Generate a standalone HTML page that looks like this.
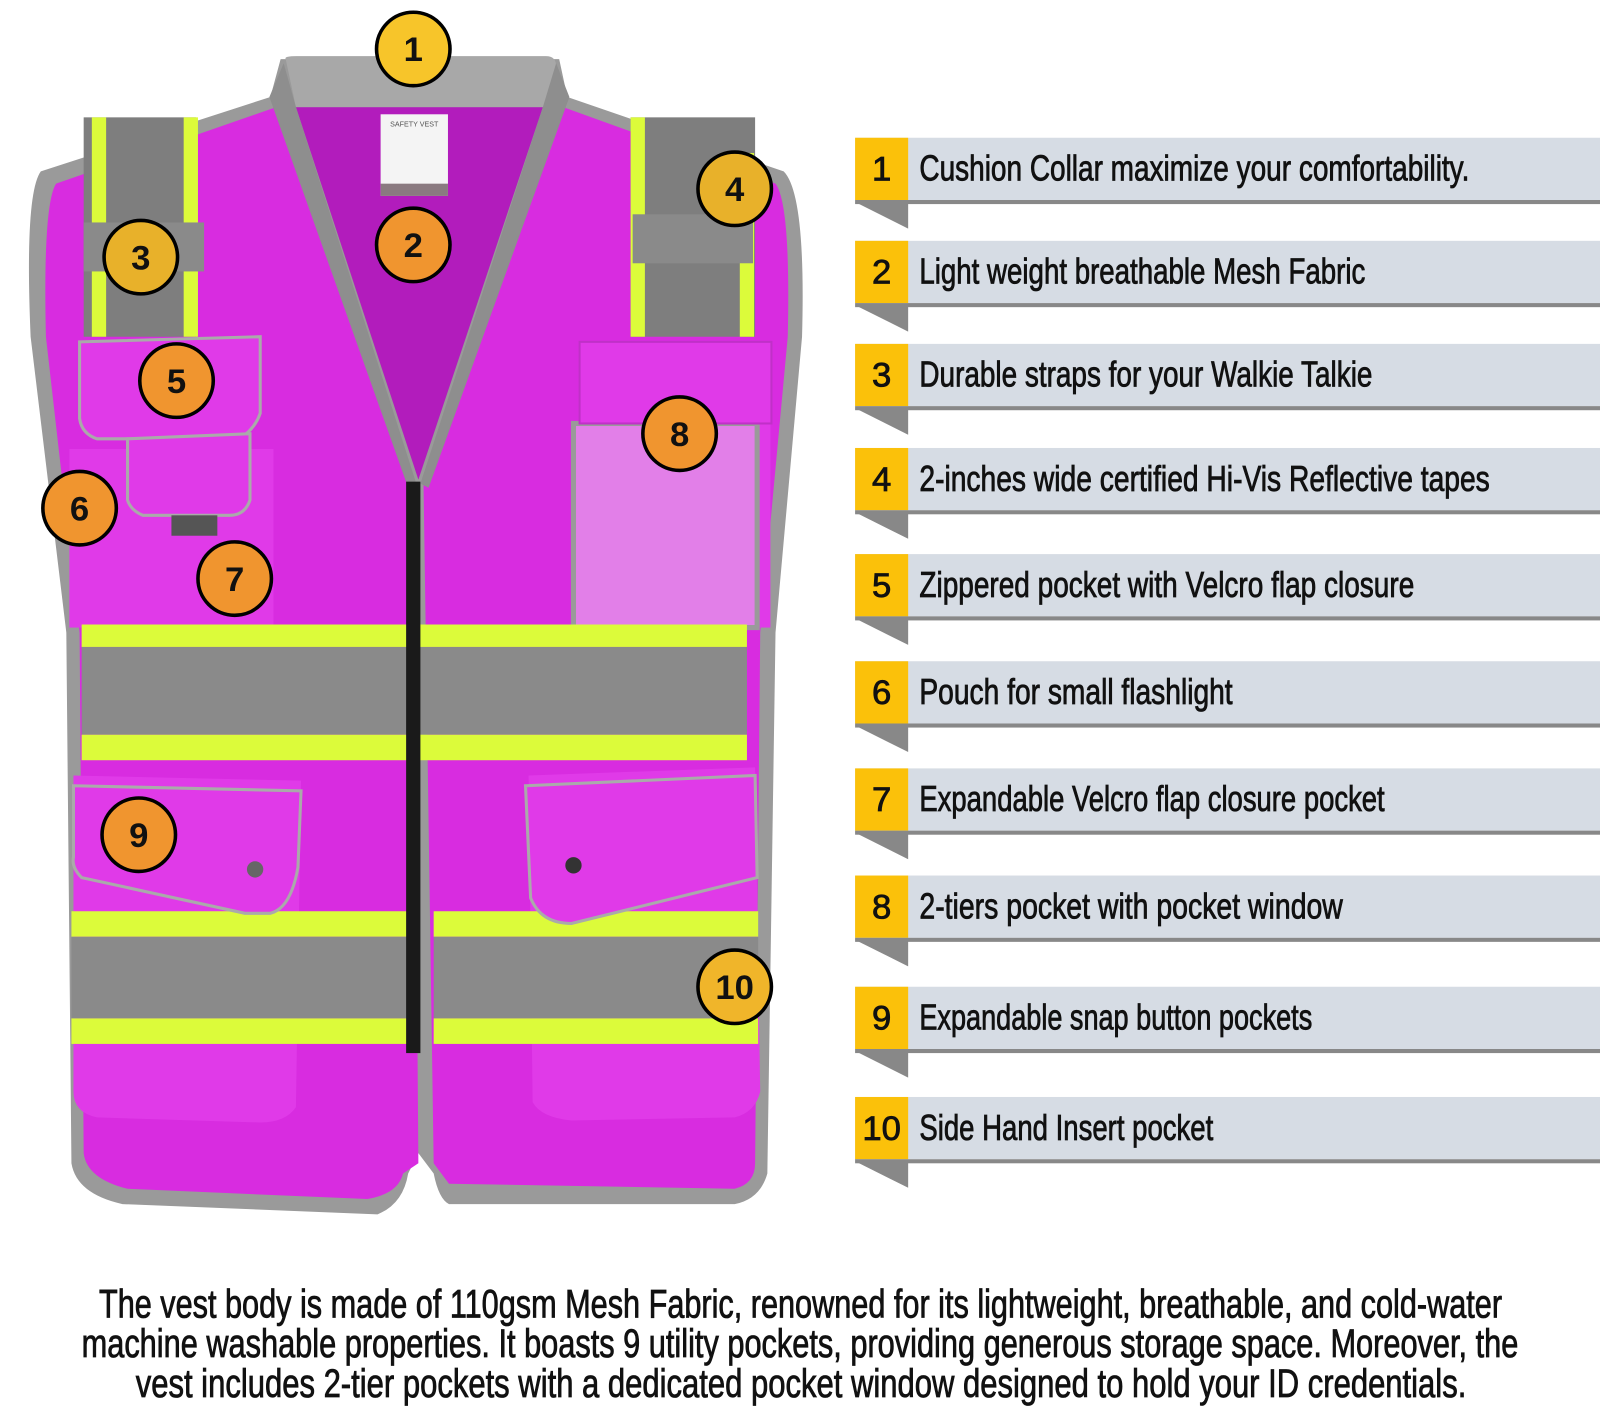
<!DOCTYPE html>
<html><head><meta charset="utf-8"><style>
html,body{margin:0;padding:0;background:#fff;width:1600px;height:1423px;overflow:hidden}
svg{display:block}
text{font-family:"Liberation Sans Narrow","Liberation Sans",sans-serif;fill:#111}
</style></head><body>
<svg width="1600" height="1423" viewBox="0 0 1568 1394.5" preserveAspectRatio="none" xmlns="http://www.w3.org/2000/svg">
<path d="M275,58 L548,58 L556,95 L768,168 Q790,190 786,330 L760,620 L752,1150 Q745,1175 720,1180 L440,1180 Q430,1175 425,1150 L410,1130 L400,1150 Q395,1180 370,1190 L120,1180 Q75,1170 70,1140 L65,620 L30,330 Q24,190 40,168 L265,95 Z" fill="#9a9a9a"/>
<path d="M285,100 L405,470 L410,1140 L395,1150 Q390,1170 360,1175 L125,1165 Q85,1155 82,1130 L78,620 L45,330 Q42,200 55,180 Z" fill="#d82ce0"/>
<path d="M538,100 L415,470 L425,1140 L440,1160 L720,1165 Q740,1160 740,1140 L745,620 L772,330 Q775,200 760,180 Z" fill="#d82ce0"/>
<path d="M290,105 L532,105 L410,470 Z" fill="#b21cbc"/>
<path d="M280,58 Q278,55 290,55 L535,55 Q545,55 545,65 L540,105 L290,105 Z" fill="#a8a8a8"/>
<path d="M278,62 L264,95 L400,478 L408,474 L290,105 Z" fill="#8e8e8e"/>
<path d="M545,62 L558,95 L420,478 L412,474 L532,105 Z" fill="#8e8e8e"/>
<rect x="373" y="112" width="66" height="80" fill="#f4f4f4"/>
<text x="406" y="124" font-size="7" text-anchor="middle" style="font-family:'Liberation Sans',sans-serif;fill:#555">SAFETY VEST</text>
<rect x="373" y="180" width="66" height="12" fill="#8a7a80"/>
<rect x="82" y="115" width="110" height="215" fill="#7e7e7e"/>
<rect x="90" y="115" width="14" height="215" fill="#dcfb3a"/>
<rect x="180" y="115" width="14" height="215" fill="#dcfb3a"/>
<rect x="618" y="115" width="122" height="215" fill="#7e7e7e"/>
<rect x="618" y="115" width="14" height="215" fill="#dcfb3a"/>
<rect x="725" y="150" width="14" height="180" fill="#dcfb3a"/>
<rect x="82" y="218" width="118" height="48" fill="#8a8a8a"/>
<rect x="620" y="210" width="118" height="48" fill="#8a8a8a"/>
<rect x="68" y="440" width="200" height="175" fill="#e03ae8"/>
<path d="M78,335 L255,330 L255,405 Q250,420 235,430 L95,430 Q80,425 78,410 Z" fill="#e03ae8" stroke="#aaa" stroke-width="3"/>
<path d="M125,430 L245,425 L245,490 Q240,505 225,505 L140,505 Q128,500 125,490 Z" fill="#e03ae8" stroke="#aaa" stroke-width="3"/>
<rect x="168" y="505" width="45" height="20" fill="#555"/>
<rect x="570" y="335" width="185" height="280" fill="#e03ae8"/>
<rect x="562" y="415" width="180" height="200" fill="#e27fe8" stroke="#9a9a9a" stroke-width="5"/>
<rect x="568" y="335" width="188" height="80" fill="#e03ae8" stroke="#c030c8" stroke-width="2"/>
<rect x="80" y="612" width="652" height="22" fill="#dcfb3a"/>
<rect x="80" y="634" width="652" height="86" fill="#8a8a8a"/>
<rect x="80" y="720" width="652" height="25" fill="#dcfb3a"/>
<path d="M72,760 L295,765 L290,1085 Q280,1100 255,1100 L95,1095 Q72,1090 72,1070 Z" fill="#e03ae8"/>
<path d="M518,760 L740,752 L745,1070 Q740,1090 720,1095 L560,1098 Q530,1095 522,1080 Z" fill="#e03ae8"/>
<rect x="70" y="893" width="335" height="25" fill="#dcfb3a"/>
<rect x="70" y="918" width="335" height="80" fill="#8a8a8a"/>
<rect x="70" y="998" width="335" height="25" fill="#dcfb3a"/>
<rect x="425" y="893" width="318" height="25" fill="#dcfb3a"/>
<rect x="425" y="918" width="318" height="80" fill="#8a8a8a"/>
<rect x="425" y="998" width="318" height="25" fill="#dcfb3a"/>
<path d="M72,770 L295,775 L292,850 Q285,890 265,895 L240,895 L80,860 Q70,850 72,840 Z" fill="#e03ae8" stroke="#aaa" stroke-width="3"/>
<path d="M515,770 L740,760 L742,860 L560,905 Q530,905 520,880 Z" fill="#e03ae8" stroke="#aaa" stroke-width="3"/>
<circle cx="250" cy="852" r="8" fill="#666"/>
<circle cx="562" cy="848" r="8" fill="#333"/>
<rect x="398" y="472" width="14" height="560" fill="#1a1a1a"/>
<g stroke="#000" stroke-width="3.5">
<circle cx="405" cy="48" r="36" fill="#f7c52a"/>
<circle cx="405" cy="240" r="36" fill="#f0952f"/>
<circle cx="138" cy="252" r="36" fill="#e8b12a"/>
<circle cx="720" cy="185" r="36" fill="#e8b12a"/>
<circle cx="173" cy="373" r="36" fill="#f0952f"/>
<circle cx="78" cy="498" r="36" fill="#f0952f"/>
<circle cx="230" cy="567" r="36" fill="#f0952f"/>
<circle cx="666" cy="425" r="36" fill="#f0952f"/>
<circle cx="136" cy="818" r="36" fill="#f0952f"/>
<circle cx="720" cy="967" r="36" fill="#f0b52a"/>
</g>
<g font-size="34" font-weight="bold" text-anchor="middle">
<text x="405" y="60">1</text><text x="405" y="252">2</text><text x="138" y="264">3</text><text x="720" y="197">4</text><text x="173" y="385">5</text><text x="78" y="510">6</text><text x="230" y="579">7</text><text x="666" y="437">8</text><text x="136" y="830">9</text><text x="720" y="979">10</text>
</g>
<g>
<g transform="translate(0,135)"><rect x="838" y="0" width="730" height="61" fill="#d6dce4"/><rect x="838" y="0" width="52" height="61" fill="#fbc10a"/><rect x="838" y="61" width="730" height="4" fill="#888"/><polygon points="838,63 890,63 890,89" fill="#888"/></g>
<g transform="translate(0,236)"><rect x="838" y="0" width="730" height="61" fill="#d6dce4"/><rect x="838" y="0" width="52" height="61" fill="#fbc10a"/><rect x="838" y="61" width="730" height="4" fill="#888"/><polygon points="838,63 890,63 890,89" fill="#888"/></g>
<g transform="translate(0,337)"><rect x="838" y="0" width="730" height="61" fill="#d6dce4"/><rect x="838" y="0" width="52" height="61" fill="#fbc10a"/><rect x="838" y="61" width="730" height="4" fill="#888"/><polygon points="838,63 890,63 890,89" fill="#888"/></g>
<g transform="translate(0,439)"><rect x="838" y="0" width="730" height="61" fill="#d6dce4"/><rect x="838" y="0" width="52" height="61" fill="#fbc10a"/><rect x="838" y="61" width="730" height="4" fill="#888"/><polygon points="838,63 890,63 890,89" fill="#888"/></g>
<g transform="translate(0,543)"><rect x="838" y="0" width="730" height="61" fill="#d6dce4"/><rect x="838" y="0" width="52" height="61" fill="#fbc10a"/><rect x="838" y="61" width="730" height="4" fill="#888"/><polygon points="838,63 890,63 890,89" fill="#888"/></g>
<g transform="translate(0,648)"><rect x="838" y="0" width="730" height="61" fill="#d6dce4"/><rect x="838" y="0" width="52" height="61" fill="#fbc10a"/><rect x="838" y="61" width="730" height="4" fill="#888"/><polygon points="838,63 890,63 890,89" fill="#888"/></g>
<g transform="translate(0,753)"><rect x="838" y="0" width="730" height="61" fill="#d6dce4"/><rect x="838" y="0" width="52" height="61" fill="#fbc10a"/><rect x="838" y="61" width="730" height="4" fill="#888"/><polygon points="838,63 890,63 890,89" fill="#888"/></g>
<g transform="translate(0,858)"><rect x="838" y="0" width="730" height="61" fill="#d6dce4"/><rect x="838" y="0" width="52" height="61" fill="#fbc10a"/><rect x="838" y="61" width="730" height="4" fill="#888"/><polygon points="838,63 890,63 890,89" fill="#888"/></g>
<g transform="translate(0,967)"><rect x="838" y="0" width="730" height="61" fill="#d6dce4"/><rect x="838" y="0" width="52" height="61" fill="#fbc10a"/><rect x="838" y="61" width="730" height="4" fill="#888"/><polygon points="838,63 890,63 890,89" fill="#888"/></g>
<g transform="translate(0,1075)"><rect x="838" y="0" width="730" height="61" fill="#d6dce4"/><rect x="838" y="0" width="52" height="61" fill="#fbc10a"/><rect x="838" y="61" width="730" height="4" fill="#888"/><polygon points="838,63 890,63 890,89" fill="#888"/></g>
</g>
<g font-size="34" text-anchor="middle" stroke="#111" stroke-width="0.8">
<text x="864" y="177">1</text><text x="864" y="278">2</text><text x="864" y="379">3</text><text x="864" y="481">4</text><text x="864" y="585">5</text><text x="864" y="690">6</text><text x="864" y="795">7</text><text x="864" y="900">8</text><text x="864" y="1009">9</text><text x="864" y="1117">10</text>
</g>
<g font-size="35" stroke="#111" stroke-width="0.8">
<text x="901" y="177" textLength="539" lengthAdjust="spacingAndGlyphs">Cushion Collar maximize your comfortability.</text>
<text x="901" y="278" textLength="437" lengthAdjust="spacingAndGlyphs">Light weight breathable Mesh Fabric</text>
<text x="901" y="379" textLength="444" lengthAdjust="spacingAndGlyphs">Durable straps for your Walkie Talkie</text>
<text x="901" y="481" textLength="559" lengthAdjust="spacingAndGlyphs">2-inches wide certified Hi-Vis Reflective tapes</text>
<text x="901" y="585" textLength="485" lengthAdjust="spacingAndGlyphs">Zippered pocket with Velcro flap closure</text>
<text x="901" y="690" textLength="307" lengthAdjust="spacingAndGlyphs">Pouch for small flashlight</text>
<text x="901" y="795" textLength="456" lengthAdjust="spacingAndGlyphs">Expandable Velcro flap closure pocket</text>
<text x="901" y="900" textLength="415" lengthAdjust="spacingAndGlyphs">2-tiers pocket with pocket window</text>
<text x="901" y="1009" textLength="385" lengthAdjust="spacingAndGlyphs">Expandable snap button pockets</text>
<text x="901" y="1117" textLength="288" lengthAdjust="spacingAndGlyphs">Side Hand Insert pocket</text>
</g>
<g font-size="39" stroke="#111" stroke-width="0.8">
<text x="97" y="1291" textLength="1375" lengthAdjust="spacingAndGlyphs">The vest body is made of 110gsm Mesh Fabric, renowned for its lightweight, breathable, and cold-water</text>
<text x="80" y="1330" textLength="1408" lengthAdjust="spacingAndGlyphs">machine washable properties. It boasts 9 utility pockets, providing generous storage space. Moreover, the</text>
<text x="133" y="1369" textLength="1304" lengthAdjust="spacingAndGlyphs">vest includes 2-tier pockets with a dedicated pocket window designed to hold your ID credentials.</text>
</g>
</svg>
</body></html>
